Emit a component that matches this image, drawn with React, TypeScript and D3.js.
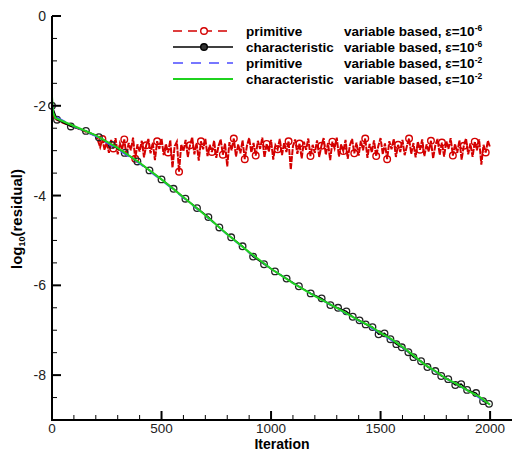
import React from "react";
import * as d3 from "d3";

// iterations / log10(residual)
const redHead: [number, number][] = [
  [0, -2.0], [10, -2.28], [50, -2.38], [100, -2.47], [150, -2.57], [200, -2.66],
];
// primitive eps=1e-6, noisy plateau from iteration 210 to 2000, every 10 iterations
const redNoiseStart = 210;
const redNoiseStep = 10;
const redNoise = [
  -2.78, -2.92, -2.74, -2.98, -2.81, -3.05, -2.76, -2.95, -2.72, -3.08,
  -2.84, -2.97, -2.75, -3.12, -2.83, -2.99, -2.71, -3.18, -2.86, -3.02,
  -2.78, -3.15, -2.88, -2.74, -3.06, -2.82, -3.21, -2.79, -2.96, -2.73,
  -3.10, -2.85, -3.04, -2.77, -3.38, -2.90, -2.80, -3.47, -2.86, -3.01,
  -2.76, -3.14, -2.88, -2.70, -3.08, -2.83, -3.22, -2.79, -2.97, -2.74,
  -3.12, -2.87, -3.03, -2.78, -3.16, -2.90, -2.75, -3.09, -2.84, -3.35,
  -2.81, -2.99, -2.73, -3.13, -2.86, -3.06, -2.77, -3.19, -2.89, -2.72,
  -3.04, -2.83, -3.11, -2.78, -2.96, -2.71, -3.15, -2.85, -3.02, -2.76,
  -3.20, -2.88, -2.97, -2.74, -3.10, -2.82, -3.03, -2.79, -3.42, -2.90,
  -2.75, -3.07, -2.84, -3.17, -2.80, -2.98, -2.73, -3.12, -2.87, -3.05,
  -2.77, -3.14, -2.89, -2.72, -3.09, -2.83, -3.21, -2.80, -2.95, -2.71,
  -3.13, -2.86, -3.01, -2.76, -3.18, -2.88, -2.74, -3.06, -2.82, -3.11,
  -2.78, -2.99, -2.73, -3.16, -2.85, -3.04, -2.77, -3.12, -2.89, -2.72,
  -3.08, -2.84, -3.19, -2.79, -2.97, -2.74, -3.14, -2.87, -3.03, -2.76,
  -3.10, -2.90, -2.73, -3.07, -2.83, -3.15, -2.80, -2.98, -2.75, -3.12,
  -2.86, -3.02, -2.78, -3.17, -2.88, -2.74, -3.09, -2.82, -3.13, -2.79,
  -2.96, -2.72, -3.11, -2.85, -3.05, -2.77, -3.20, -2.89, -2.73, -3.08,
  -2.84, -3.14, -2.80, -2.99, -2.75, -3.31, -2.87, -3.04, -2.78, -2.93,
];
const redMarkEvery = 5;

// characteristic eps=1e-6 (every point has a marker)
const blackPts: [number, number][] = [
  [0, -2.0], [23, -2.31], [86, -2.46], [155, -2.56], [214, -2.7], [273, -2.87],
  [332, -3.05], [390, -3.24], [445, -3.44], [500, -3.64], [555, -3.85], [609, -4.07],
  [662, -4.28], [714, -4.48], [764, -4.71], [818, -4.93], [870, -5.13], [918, -5.36],
  [968, -5.53], [1018, -5.69], [1071, -5.85], [1127, -6.02], [1181, -6.18], [1231, -6.29],
  [1271, -6.44], [1306, -6.5], [1344, -6.58], [1373, -6.7], [1404, -6.78], [1432, -6.87],
  [1463, -6.93], [1491, -7.09], [1518, -7.07], [1545, -7.2], [1572, -7.31], [1597, -7.38],
  [1627, -7.49], [1650, -7.6], [1685, -7.69], [1714, -7.82], [1750, -7.91], [1777, -8.02],
  [1809, -8.09], [1841, -8.22], [1868, -8.2], [1895, -8.33], [1936, -8.4], [1968, -8.58],
  [1995, -8.64],
];

// primitive eps=1e-2
const bluePts: [number, number][] = [
  [0, -1.9], [8, -2.22], [100, -2.46], [200, -2.68], [300, -2.97], [400, -3.29],
  [500, -3.66], [600, -4.05], [700, -4.45], [800, -4.87], [900, -5.27], [1000, -5.63],
  [1100, -5.95], [1200, -6.24], [1300, -6.51], [1400, -6.79], [1500, -7.07], [1600, -7.38],
  [1700, -7.76], [1800, -8.08], [1900, -8.35], [2000, -8.66],
];

// characteristic eps=1e-2
const greenPts: [number, number][] = [
  [0, -1.8], [5, -2.15], [15, -2.27], [100, -2.45], [200, -2.66], [300, -2.94],
  [400, -3.27], [500, -3.64], [600, -4.04], [700, -4.44], [800, -4.86], [900, -5.26],
  [1000, -5.63], [1100, -5.95], [1200, -6.24], [1300, -6.5], [1400, -6.78], [1450, -6.9],
  [1500, -7.06], [1550, -7.2], [1600, -7.37], [1650, -7.56], [1700, -7.76], [1750, -7.91],
  [1800, -8.08], [1850, -8.2], [1900, -8.35], [1950, -8.48], [2000, -8.66],
];

const xMajor = [0, 500, 1000, 1500, 2000];
const yMajor = [0, -2, -4, -6, -8];

const legendKinds = ["primitive", "characteristic", "primitive", "characteristic"];
const legendEps = ["-6", "-6", "-2", "-2"];

const RED = "#d40000";
const BLUE = "#4b4bff";
const GREEN = "#1fd21f";
const FONT = "'Liberation Sans', Arial, Helvetica, sans-serif";

export default function App() {
  const x = d3.scaleLinear().domain([0, 2100]).range([52, 512]);
  const y = d3.scaleLinear().domain([-9, 0]).range([420, 16]);

  const redPts: [number, number][] = [
    ...redHead,
    ...redNoise.map((v, i) => [redNoiseStart + i * redNoiseStep, v] as [number, number]),
  ];
  const redMarks = redNoise
    .map((v, i) => [redNoiseStart + i * redNoiseStep, v] as [number, number])
    .filter((_, i) => i % redMarkEvery === 2);

  const line = d3
    .line<[number, number]>()
    .x((d) => x(d[0]))
    .y((d) => y(d[1]));

  const xMinor = d3.range(0, 2100, 100).filter((v) => !xMajor.includes(v));
  const yMinor = d3.range(0, -9.01, -0.5).filter((v) => !yMajor.includes(v) && v > -9);

  const x0 = x(0);
  const yb = y(-9);

  const legendY = (i: number) => 31 + i * 16;
  const legendStyle = [
    { stroke: RED, dash: "9,6", marker: "open" },
    { stroke: "#000", dash: "", marker: "filled" },
    { stroke: BLUE, dash: "10,8", marker: "" },
    { stroke: GREEN, dash: "", marker: "" },
  ];

  return (
    <svg
      width={512}
      height={450}
      style={{ position: "absolute", left: 0, top: 0, background: "#fff" }}
      fontFamily={FONT}
    >
      {/* series */}
      <path d={line(redPts) || ""} fill="none" stroke={RED} strokeWidth={2} strokeDasharray="6,1" />
      {redMarks.map((d, i) => (
        <circle key={"rm" + i} cx={x(d[0])} cy={y(d[1])} r={3.3} fill="none" stroke={RED} strokeWidth={1.4} />
      ))}
      <path d={line(blackPts) || ""} fill="none" stroke="#000" strokeWidth={1.4} />
      {blackPts.map((d, i) => (
        <circle key={"bm" + i} cx={x(d[0])} cy={y(d[1])} r={3.3} fill="none" stroke="#222" strokeWidth={1.3} />
      ))}
      <path d={line(bluePts) || ""} fill="none" stroke={BLUE} strokeWidth={1.6} strokeDasharray="10,8" />
      <path d={line(greenPts) || ""} fill="none" stroke={GREEN} strokeWidth={2} />

      {/* axes */}
      <line x1={x0} x2={x0} y1={y(0)} y2={yb + 1} stroke="#000" strokeWidth={2} />
      <line x1={x0 - 1} x2={512} y1={yb} y2={yb} stroke="#000" strokeWidth={2} />
      {yMajor.map((v) => (
        <g key={"ym" + v}>
          <line x1={x0} x2={x0 + 9} y1={y(v)} y2={y(v)} stroke="#000" strokeWidth={2} />
          <text x={x0 - 6} y={y(v)} dy="0.36em" textAnchor="end" fontSize={14} fill="#222">
            {v}
          </text>
        </g>
      ))}
      {yMinor.map((v) => (
        <line key={"yn" + v} x1={x0} x2={x0 + 5} y1={y(v)} y2={y(v)} stroke="#000" strokeWidth={1} />
      ))}
      {xMajor.map((v) => (
        <g key={"xm" + v}>
          <line x1={x(v)} x2={x(v)} y1={yb} y2={yb - 9} stroke="#000" strokeWidth={2} />
          <text x={x(v)} y={yb + 13} textAnchor="middle" fontSize={13.5} fill="#222">
            {v}
          </text>
        </g>
      ))}
      {xMinor.map((v) => (
        <line key={"xn" + v} x1={x(v)} x2={x(v)} y1={yb} y2={yb - 5} stroke="#000" strokeWidth={1} />
      ))}

      {/* axis titles */}
      <text x={282} y={448.5} textAnchor="middle" fontSize={14} fontWeight="bold">
        Iteration
      </text>
      <text transform="translate(22,219) rotate(-90)" textAnchor="middle" fontSize={15} fontWeight="bold">
        log
        <tspan fontSize={9} dy={3}>10</tspan>
        <tspan dy={-3}>(residual)</tspan>
      </text>

      {/* legend */}
      {legendKinds.map((k, i) => {
        const ly = legendY(i);
        const s = legendStyle[i];
        return (
          <g key={"lg" + i}>
            <line x1={173} x2={233} y1={ly} y2={ly} stroke={s.stroke} strokeWidth={s.stroke === GREEN ? 2 : 1.6} strokeDasharray={s.dash} />
            {s.marker === "open" && <circle cx={204} cy={ly} r={3.3} fill="#fff" stroke={RED} strokeWidth={1.4} />}
            {s.marker === "filled" && <circle cx={204} cy={ly} r={3.3} fill="#333" stroke="#000" strokeWidth={1.4} />}
            <text x={246} y={ly + 4.5} fontSize={13.5} fontWeight="bold">
              {k}
            </text>
            <text x={344} y={ly + 4.5} fontSize={13.5} fontWeight="bold">
              variable based, ε=10
              <tspan fontSize={8.5} dy={-5}>{legendEps[i]}</tspan>
            </text>
          </g>
        );
      })}
    </svg>
  );
}
